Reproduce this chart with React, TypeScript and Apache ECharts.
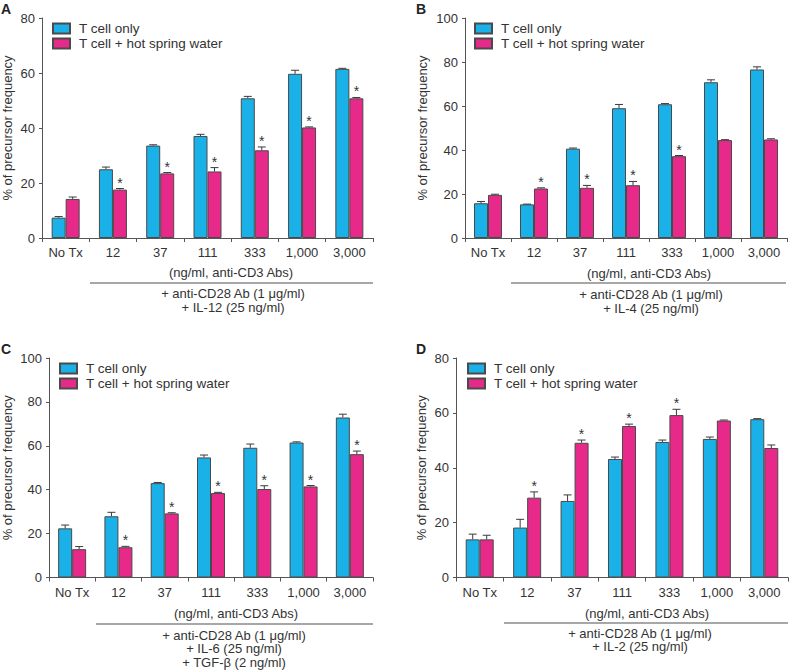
import React, { useEffect, useRef } from "react";
import * as echarts from "echarts";

const categories = ["No Tx", "12", "37", "111", "333", "1,000", "3,000"];
const seriesNames = ["T cell only", "T cell + hot spring water"];

// Panel A (IL-12)
const aOnly = [7.4, 25.0, 33.6, 37.1, 50.8, 59.7, 61.5];
const aOnlyErr = [0.4, 0.8, 0.3, 0.6, 0.7, 1.3, 0.2];
const aHot = [14.2, 17.6, 23.5, 24.2, 31.9, 40.2, 50.8];
const aHotErr = [0.7, 0.4, 0.3, 1.4, 1.2, 0.2, 0.3];
const aSig = [0, 1, 1, 1, 1, 1, 1];

// Panel B (IL-4)
const bOnly = [15.8, 15.3, 40.6, 59.0, 60.8, 70.8, 76.6];
const bOnlyErr = [0.8, 0.1, 0.3, 1.7, 0.3, 1.1, 1.2];
const bHot = [19.6, 22.5, 22.8, 24.0, 37.2, 44.5, 44.8];
const bHotErr = [0.3, 0.3, 1.1, 1.7, 0.3, 0.2, 0.3];
const bSig = [0, 1, 1, 1, 1, 0, 0];

// Panel C (IL-6 + TGF-beta)
const cOnly = [22.4, 27.9, 43.0, 54.7, 59.1, 61.5, 72.9];
const cOnlyErr = [1.5, 1.8, 0.3, 1.1, 1.7, 0.3, 1.5];
const cHot = [12.9, 13.8, 29.2, 38.5, 40.3, 41.5, 56.2];
const cHotErr = [1.2, 0.4, 0.3, 0.3, 1.5, 0.4, 1.4];
const cSig = [0, 1, 1, 1, 1, 1, 1];

// Panel D (IL-2)
const dOnly = [13.9, 18.2, 27.9, 43.2, 49.4, 50.5, 57.7];
const dOnlyErr = [1.9, 3.0, 2.2, 0.7, 0.7, 0.7, 0.2];
const dHot = [13.9, 29.1, 49.1, 55.2, 59.2, 57.2, 47.2];
const dHotErr = [1.5, 2.1, 1.0, 0.7, 2.1, 0.2, 1.1];
const dSig = [0, 1, 1, 1, 1, 0, 0];

const yMax = [80, 100, 100, 80];
const panelLetters = ["A", "B", "C", "D"];
const xAxisTitle = "(ng/ml, anti-CD3 Abs)";
const conditionLines = [
  ["+ anti-CD28 Ab (1 μg/ml)", "+ IL-12 (25 ng/ml)"],
  ["+ anti-CD28 Ab (1 μg/ml)", "+ IL-4 (25 ng/ml)"],
  ["+ anti-CD28 Ab (1 μg/ml)", "+ IL-6 (25 ng/ml)", "+ TGF-β (2 ng/ml)"],
  ["+ anti-CD28 Ab (1 μg/ml)", "+ IL-2 (25 ng/ml)"],
];
const yName = "% of precursor frequency";

const FONT = "Liberation Sans, Arial, Helvetica, sans-serif";
const BLUE = "#1ab0e8";
const PINK = "#e7298a";
const BORDER = "#4a4a4a";
const AXIS = "#555555";
const TEXT = "#333333";

const panels = [
  { only: aOnly, onlyErr: aOnlyErr, hot: aHot, hotErr: aHotErr, sig: aSig },
  { only: bOnly, onlyErr: bOnlyErr, hot: bHot, hotErr: bHotErr, sig: bSig },
  { only: cOnly, onlyErr: cOnlyErr, hot: cHot, hotErr: cHotErr, sig: cSig },
  { only: dOnly, onlyErr: dOnlyErr, hot: dHot, hotErr: dHotErr, sig: dSig },
];

// layout
const grids = [
  { left: 42, top: 18, width: 331, height: 220 },
  { left: 465, top: 18, width: 322, height: 220 },
  { left: 49, top: 358, width: 324, height: 219.5 },
  { left: 456, top: 358, width: 332, height: 219.5 },
];
const nameGaps = [28, 36, 35, 28];
const legendPos = [
  { left: 52, top: 21 },
  { left: 474, top: 21 },
  { left: 59, top: 361 },
  { left: 467, top: 361 },
];
const letterPos = [
  { x: 1, y: 2 },
  { x: 416, y: 2 },
  { x: 1, y: 342 },
  { x: 416, y: 342 },
];
const annot = [
  { lineX1: 90, lineX2: 373, lineY: 283, titleX: 231, titleY: 272, subX: 233, subY: 300.5 },
  { lineX1: 511, lineX2: 786, lineY: 283, titleX: 649, titleY: 273, subX: 651, subY: 301.5 },
  { lineX1: 96, lineX2: 373, lineY: 624, titleX: 236, titleY: 613, subX: 234, subY: 648.5 },
  { lineX1: 504, lineX2: 788, lineY: 623, titleX: 647, titleY: 613, subX: 640, subY: 640 },
];

function errSeries(panel: number, vals: number[], errs: number[], sig: number[] | null, offset: number) {
  return {
    type: "custom",
    xAxisIndex: panel,
    yAxisIndex: panel,
    z: 5,
    silent: true,
    data: vals.map((v, i) => [i, v, errs[i], sig ? sig[i] : 0]),
    renderItem: (params: any, api: any) => {
      const idx = api.value(0);
      const v = api.value(1);
      const e = api.value(2);
      const s = api.value(3);
      const base = api.coord([idx, v]);
      const top = api.coord([idx, v + e]);
      const x = base[0] + offset;
      const children: any[] = [
        { type: "line", shape: { x1: x, y1: base[1], x2: x, y2: top[1] }, style: { stroke: "#3a3a3a", lineWidth: 1 } },
        { type: "line", shape: { x1: x - 4, y1: top[1], x2: x + 4, y2: top[1] }, style: { stroke: "#3a3a3a", lineWidth: 1 } },
      ];
      if (s) {
        children.push({
          type: "text",
          style: { text: "*", x: x, y: top[1] - 6, align: "center", verticalAlign: "middle", font: `14px ${FONT}`, fill: TEXT },
        });
      }
      return { type: "group", children };
    },
  };
}

export default function App() {
  const ref = useRef<HTMLDivElement>(null);
  useEffect(() => {
    document.body.style.margin = "0";
    const chart = echarts.init(ref.current!, null, { renderer: "svg" });

    const series: any[] = [];
    panels.forEach((p, i) => {
      series.push({
        type: "bar",
        name: seriesNames[0],
        xAxisIndex: i,
        yAxisIndex: i,
        data: p.only,
        barWidth: 14,
        barGap: "0%",
        itemStyle: { color: BLUE, borderColor: BORDER, borderWidth: 1 },
      });
      series.push({
        type: "bar",
        name: seriesNames[1],
        xAxisIndex: i,
        yAxisIndex: i,
        data: p.hot,
        barWidth: 14,
        barGap: "0%",
        itemStyle: { color: PINK, borderColor: BORDER, borderWidth: 1 },
      });
      series.push(errSeries(i, p.only, p.onlyErr, null, -7));
      series.push(errSeries(i, p.hot, p.hotErr, p.sig, 7));
    });

    const graphic: any[] = [];
    annot.forEach((a, i) => {
      graphic.push({
        type: "text",
        left: letterPos[i].x,
        top: letterPos[i].y,
        style: { text: panelLetters[i], font: `bold 14px ${FONT}`, fill: "#222" },
      });
      graphic.push({
        type: "text",
        x: a.titleX,
        y: a.titleY,
        style: { text: xAxisTitle, align: "center", verticalAlign: "middle", font: `13px ${FONT}`, fill: TEXT },
      });
      graphic.push({
        type: "line",
        shape: { x1: a.lineX1, y1: a.lineY, x2: a.lineX2, y2: a.lineY },
        style: { stroke: "#8a8a8a", lineWidth: 1.5 },
      });
      graphic.push({
        type: "text",
        x: a.subX,
        y: a.subY,
        style: {
          text: conditionLines[i].join("\n"),
          align: "center",
          verticalAlign: "middle",
          font: `13px ${FONT}`,
          lineHeight: 13.5,
          fill: TEXT,
        },
      });
    });

    chart.setOption({
      animation: false,
      backgroundColor: "#ffffff",
      textStyle: { fontFamily: FONT },
      grid: grids.map((g) => ({ ...g, containLabel: false })),
      legend: legendPos.map((l) => ({
        left: l.left,
        top: l.top,
        orient: "vertical",
        padding: 0,
        itemGap: 0,
        itemWidth: 17,
        itemHeight: 10,
        icon: "rect",
        selectedMode: false,
        data: seriesNames,
        textStyle: { fontSize: 13.5, color: TEXT, lineHeight: 15, padding: [0, 0, 0, 4], fontFamily: FONT },
      })),
      xAxis: grids.map((_, i) => ({
        type: "category",
        gridIndex: i,
        data: categories,
        axisLine: { lineStyle: { color: AXIS, width: 1 } },
        axisTick: { show: true, alignWithLabel: false, inside: false, length: 4, lineStyle: { color: AXIS } },
        axisLabel: { fontSize: 13, color: TEXT, margin: 8, interval: 0 },
      })),
      yAxis: grids.map((_, i) => ({
        type: "value",
        gridIndex: i,
        min: 0,
        max: yMax[i],
        interval: 20,
        name: yName,
        nameLocation: "middle",
        nameGap: nameGaps[i],
        nameTextStyle: { fontSize: 13, color: TEXT },
        axisLine: { show: true, lineStyle: { color: AXIS, width: 1 } },
        axisTick: { show: true, length: 3, lineStyle: { color: AXIS } },
        axisLabel: { fontSize: 13, color: TEXT, margin: 7 },
        splitLine: { show: false },
      })),
      series,
      graphic,
    });
    return () => chart.dispose();
  }, []);
  return <div ref={ref} style={{ width: 789, height: 672, position: "absolute", left: 0, top: 0 }} />;
}
